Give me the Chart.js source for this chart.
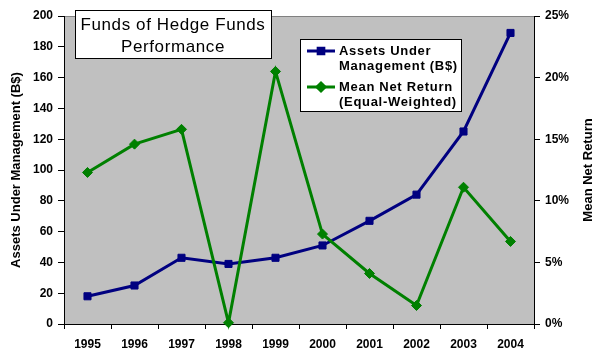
<!DOCTYPE html>
<html>
<head>
<meta charset="utf-8">
<script src="https://cdn.jsdelivr.net/npm/chart.js@4"></script>
<style>
body { margin: 0; background: #fff; }
</style>
</head>
<body>
<canvas id="hedgeChart" width="600" height="360"></canvas>
<script>
// chart data
const years = ['1995', '1996', '1997', '1998', '1999', '2000', '2001', '2002', '2003', '2004'];
const assets = [18, 25, 43, 39, 43, 51, 67, 84, 125, 189];
const netReturn = [12.3, 14.6, 15.8, 0.1, 20.5, 7.3, 4.1, 1.5, 11.1, 6.7];
const returnTickLabels = ['0%', '5%', '10%', '15%', '20%', '25%'];
const titleLines = ['Funds of Hedge Funds', 'Performance'];
const legendNames = [['Assets Under', 'Management (B$)'], ['Mean Net Return', '(Equal-Weighted)']];
const rightAxisTitle = 'Mean Net Return';

const FONT = "'Liberation Sans', Arial, sans-serif";
Chart.defaults.font.family = FONT;
Chart.defaults.color = '#000';

// gray plot area with a gray top edge
const plotBackground = {
    id: 'plotBackground',
    beforeDraw(chart) {
        const { ctx, chartArea: a } = chart;
        ctx.save();
        ctx.fillStyle = '#c0c0c0';
        ctx.fillRect(a.left, a.top, a.right - a.left, a.bottom - a.top);
        ctx.strokeStyle = '#808080';
        ctx.lineWidth = 1;
        ctx.beginPath();
        ctx.moveTo(a.left, a.top + 0.5);
        ctx.lineTo(a.right, a.top + 0.5);
        ctx.stroke();
        ctx.restore();
    }
};

// boxed title and legend inside the plot, plus the right axis title (reads bottom-up)
const boxes = {
    id: 'boxes',
    afterDatasetsDraw(chart) {
        const ctx = chart.ctx;
        const a = chart.chartArea;
        ctx.save();
        // title box
        ctx.fillStyle = '#fff';
        ctx.strokeStyle = '#000';
        ctx.lineWidth = 1;
        ctx.fillRect(75.5, 10.5, 196, 48);
        ctx.strokeRect(75.5, 10.5, 196, 48);
        ctx.fillStyle = '#000';
        ctx.font = '17px ' + FONT;
        ctx.letterSpacing = '0.6px';
        ctx.textAlign = 'center';
        ctx.textBaseline = 'middle';
        ctx.fillText(titleLines[0], 173, 25);
        ctx.fillText(titleLines[1], 173, 47);

        // legend box
        ctx.fillStyle = '#fff';
        ctx.fillRect(300.5, 39.5, 161, 72);
        ctx.strokeRect(300.5, 39.5, 161, 72);
        ctx.font = 'bold 13px ' + FONT;
        ctx.letterSpacing = '0.7px';
        ctx.textAlign = 'left';
        chart.data.datasets.forEach((ds, i) => {
            const y = 51 + i * 36;
            ctx.strokeStyle = ds.borderColor;
            ctx.lineWidth = 3;
            ctx.beginPath();
            ctx.moveTo(307, y);
            ctx.lineTo(335, y);
            ctx.stroke();
            Chart.helpers.drawPoint(ctx, {
                pointStyle: ds.pointStyle, radius: 4, rotation: 0, borderWidth: 1
            }, 321, y);
            ctx.fillStyle = ds.borderColor;
            ctx.fill();
            ctx.fillStyle = '#000';
            ctx.fillText(legendNames[i][0], 339, y);
            ctx.fillText(legendNames[i][1], 339, y + 15);
        });

        // right axis title
        ctx.letterSpacing = '0px';
        ctx.font = 'bold 13px ' + FONT;
        ctx.translate(588, (a.top + a.bottom) / 2);
        ctx.rotate(-Math.PI / 2);
        ctx.textAlign = 'center';
        ctx.fillText(rightAxisTitle, 0, 0);
        ctx.restore();
    }
};

const ctx = document.getElementById('hedgeChart').getContext('2d');
const hedgeChart = new Chart(ctx, {
    type: 'line',
    data: {
        labels: years,
        datasets: [{
            label: legendNames[0].join(' '),
            data: assets,
            yAxisID: 'y',
            borderColor: '#000080',
            backgroundColor: '#000080',
            borderWidth: 3,
            pointStyle: 'rect',
            pointRadius: 5,
            pointBorderWidth: 1,
            order: 1,
            clip: false
        }, {
            label: legendNames[1].join(' '),
            data: netReturn,
            yAxisID: 'y1',
            borderColor: '#008000',
            backgroundColor: '#008000',
            borderWidth: 3,
            pointStyle: 'rectRot',
            pointRadius: 5,
            pointBorderWidth: 1,
            order: 0,
            clip: false
        }]
    },
    options: {
        responsive: false,
        animation: false,
        layout: { padding: { top: 16, left: 0, right: 0, bottom: 0 } },
        plugins: {
            legend: { display: false },
            title: { display: false },
            tooltip: { enabled: false }
        },
        scales: {
            x: {
                offset: true,
                grid: { offset: true, drawOnChartArea: false, color: '#000', tickLength: 5 },
                border: { color: '#000' },
                ticks: { font: { size: 12, weight: 'bold' }, padding: 8, maxRotation: 0 },
                afterFit: s => { s.height = 36; }
            },
            y: {
                position: 'left',
                min: 0,
                max: 200,
                ticks: { stepSize: 20, font: { size: 12, weight: 'bold' }, padding: 5 },
                grid: { drawOnChartArea: false, color: '#000', tickLength: 6 },
                border: { color: '#000' },
                title: {
                    display: true,
                    text: 'Assets Under Management (B$)',
                    font: { size: 13, weight: 'bold' },
                    padding: { top: 9, bottom: 0 }
                },
                afterFit: s => { s.width = 64; }
            },
            y1: {
                position: 'right',
                min: 0,
                max: 25,
                ticks: {
                    stepSize: 5,
                    font: { size: 12, weight: 'bold' },
                    padding: 5,
                    callback: (v, i) => returnTickLabels[i]
                },
                grid: { drawOnChartArea: false, color: '#000', tickLength: 6 },
                border: { color: '#000' },
                afterFit: s => { s.width = 66; }
            }
        }
    },
    plugins: [plotBackground, boxes]
});
</script>
</body>
</html>
